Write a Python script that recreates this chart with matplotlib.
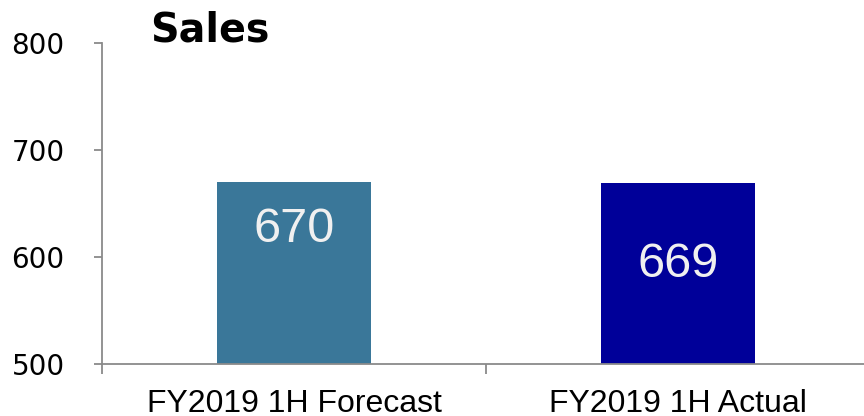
import matplotlib
matplotlib.use("Agg")
import matplotlib.pyplot as plt
import numpy as np

categories = ["FY2019 1H Forecast", "FY2019 1H Actual"]
sales = [670, 669]
bar_colors = ["#3a7799", "#000099"]
# how far below each bar top the value label sits
label_drop = [44, 76]
yticks = [500, 600, 700, 800]

fig = plt.figure(figsize=(8.64, 4.16), dpi=100)
ax = fig.add_axes([102 / 864, 52 / 416, 768 / 864, 321 / 416])

x = np.arange(len(categories))
bars = ax.bar(x, sales, width=0.4, color=bar_colors, zorder=2)

for xi, v, d in zip(x, sales, label_drop):
    ax.text(xi, v - d, str(v), ha="center", va="center", color="#f0f0f0",
            fontsize=35, family="Liberation Sans", zorder=3)

ax.set_xlim(-0.5, 1.5)
ax.set_ylim(500, 800)
ax.set_yticks(yticks)
ax.set_yticklabels([str(t) for t in yticks], family="DejaVu Sans", fontsize=20)
ax.set_xticks(x)
ax.set_xticklabels(categories, family="Liberation Sans", fontsize=23)
ax.set_xticks([-0.5, 0.5, 1.5], minor=True)

axis_gray = "#8a8a8a"
for side in ["top", "right"]:
    ax.spines[side].set_visible(False)
for side in ["left", "bottom"]:
    ax.spines[side].set_color(axis_gray)
    ax.spines[side].set_linewidth(1.3)

ax.tick_params(axis="y", direction="out", length=6, width=1.3, color=axis_gray, pad=21)
ax.tick_params(axis="x", which="major", length=0, pad=18)
ax.tick_params(axis="x", which="minor", direction="out", length=7, width=1.3, color=axis_gray)

fig.text(150 / 864, 1 - 31 / 416, "Sales", ha="left", va="center",
         fontsize=28.5, fontweight="bold", family="DejaVu Sans")

fig.savefig("out.png", dpi=100)
